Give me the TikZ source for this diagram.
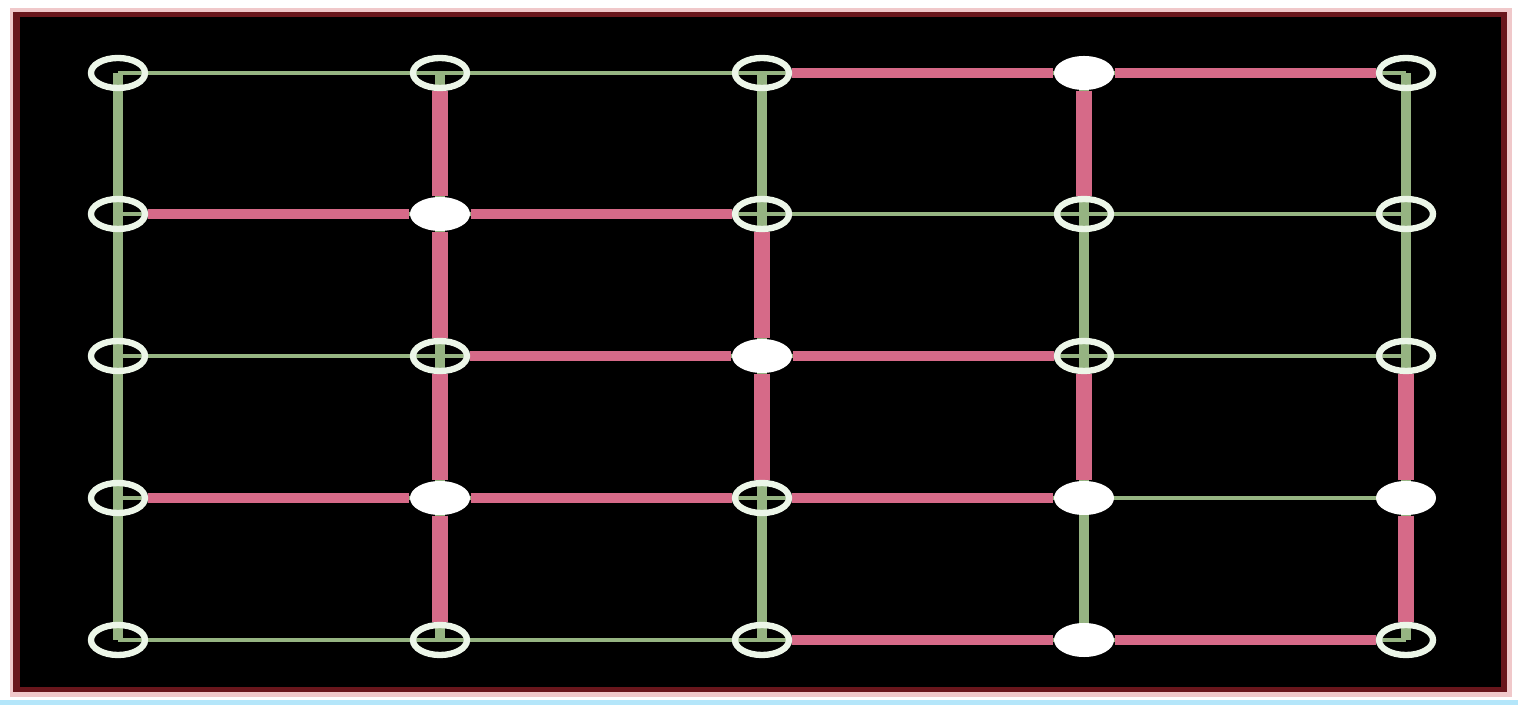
\documentclass[tikz,border=0pt]{standalone}
\usepackage{tikz}
\usetikzlibrary{shapes.geometric,backgrounds}
\definecolor{edgepink}{RGB}{214,106,136}
\definecolor{edgegreen}{RGB}{150,180,130}
\definecolor{ringwhite}{RGB}{236,246,232}
\definecolor{framepink}{RGB}{240,200,202}
\definecolor{framered}{RGB}{105,22,28}
\definecolor{lineblue}{RGB}{180,230,250}

\begin{document}
\begin{tikzpicture}[
		x=0.01cm, y=-0.01cm,
		ring/.style={ellipse, draw=ringwhite, line width=1.8pt, minimum width=0.54cm, minimum height=0.3cm, inner sep=0pt},
		dot/.style={ellipse, fill=white, minimum width=0.6cm, minimum height=0.34cm, inner sep=0pt},
		gh/.style={draw=edgegreen, line width=1.4pt},
		gv/.style={draw=edgegreen, line width=2.6pt},
		ph/.style={draw=edgepink, line width=3pt},
		pv/.style={draw=edgepink, line width=4.6pt}
		]
		\useasboundingbox (0,0) rectangle (1518,707);
		
		% --------------------------------------------------
		% Nodes
		% --------------------------------------------------
		\node[ring] (p11) at (118,73) {};
		\node[ring] (p12) at (440,73) {};
		\node[ring] (p13) at (762,73) {};
		\node[dot]  (p14) at (1084,73) {};
		\node[ring] (p15) at (1406,73) {};
		
		\node[ring] (p21) at (118,214) {};
		\node[dot]  (p22) at (440,214) {};
		\node[ring] (p23) at (762,214) {};
		\node[ring] (p24) at (1084,214) {};
		\node[ring] (p25) at (1406,214) {};
		
		\node[ring] (p31) at (118,356) {};
		\node[ring] (p32) at (440,356) {};
		\node[dot]  (p33) at (762,356) {};
		\node[ring] (p34) at (1084,356) {};
		\node[ring] (p35) at (1406,356) {};
		
		\node[ring] (p41) at (118,498) {};
		\node[dot]  (p42) at (440,498) {};
		\node[ring] (p43) at (762,498) {};
		\node[dot]  (p44) at (1084,498) {};
		\node[dot]  (p45) at (1406,498) {};
		
		\node[ring] (p51) at (118,640) {};
		\node[ring] (p52) at (440,640) {};
		\node[ring] (p53) at (762,640) {};
		\node[dot]  (p54) at (1084,640) {};
		\node[ring] (p55) at (1406,640) {};
		
		\begin{scope}[on background layer]
			% --------------------------------------------------
			% Frame
			% --------------------------------------------------
			\fill[white] (0,0) rectangle (1518,707);
			\fill[framepink] (10,8) rectangle (1512,697);
			\fill[framered] (13,12) rectangle (1507,692);
			\fill[black] (20,17) rectangle (1501,687);
			\fill[lineblue] (0,700) rectangle (1518,705);
			
			% --------------------------------------------------
			% Green grid
			% --------------------------------------------------
			\draw[gh] (p11.center) -- (p15.center);
			\draw[gh] (p21.center) -- (p25.center);
			\draw[gh] (p31.center) -- (p35.center);
			\draw[gh] (p41.center) -- (p45.center);
			\draw[gh] (p51.center) -- (p55.center);
			\draw[gv] (p11.center) -- (p51.center);
			\draw[gv] (p12.center) -- (p52.center);
			\draw[gv] (p13.center) -- (p53.center);
			\draw[gv] (p14.center) -- (p54.center);
			\draw[gv] (p15.center) -- (p55.center);
			
			% --------------------------------------------------
			% Pink edges
			% --------------------------------------------------
			\draw[ph] (p13) -- (p14);
			\draw[ph] (p14) -- (p15);
			\draw[ph] (p21) -- (p22);
			\draw[ph] (p22) -- (p23);
			\draw[ph] (p32) -- (p33);
			\draw[ph] (p33) -- (p34);
			\draw[ph] (p41) -- (p42);
			\draw[ph] (p42) -- (p43);
			\draw[ph] (p43) -- (p44);
			\draw[ph] (p53) -- (p54);
			\draw[ph] (p54) -- (p55);
			
			\draw[pv] (p12) -- (p22);
			\draw[pv] (p22) -- (p32);
			\draw[pv] (p32) -- (p42);
			\draw[pv] (p42) -- (p52);
			\draw[pv] (p23) -- (p33);
			\draw[pv] (p33) -- (p43);
			\draw[pv] (p14) -- (p24);
			\draw[pv] (p34) -- (p44);
			\draw[pv] (p35) -- (p45);
			\draw[pv] (p45) -- (p55);
		\end{scope}
		
	\end{tikzpicture}
\end{document}
